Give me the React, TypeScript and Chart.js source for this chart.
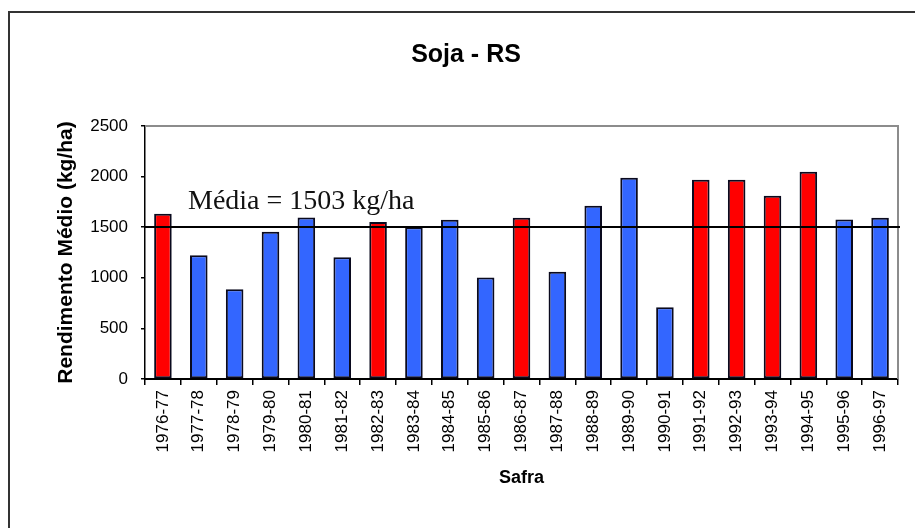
import React, { useEffect, useRef } from "react";
import { Chart, registerables } from "chart.js";

Chart.register(...registerables);

// ---- Data ----
const safras = [
  "1976-77", "1977-78", "1978-79", "1979-80", "1980-81", "1981-82", "1982-83",
  "1983-84", "1984-85", "1985-86", "1986-87", "1987-88", "1988-89", "1989-90",
  "1990-91", "1991-92", "1992-93", "1993-94", "1994-95", "1995-96", "1996-97",
];
const rendimento = [
  1633, 1222, 887, 1455, 1597, 1202, 1551,
  1500, 1574, 1002, 1593, 1061, 1712, 1988,
  710, 1968, 1968, 1810, 2047, 1577, 1593,
];
// Safras highlighted in red
const destaque = [
  true, false, false, false, false, false, true,
  false, false, false, true, false, false, false,
  false, true, true, true, true, false, false,
];
const mediaRendimento = 1503;
const yTickValues = [0, 500, 1000, 1500, 2000, 2500];

const titulo = "Soja - RS";
const tituloY = "Rendimento Médio (kg/ha)";
const tituloX = "Safra";

const RED = "#ff0000";
const BLUE = "#3366ff";
const SANS = '"Liberation Sans", Arial, sans-serif';
const SERIF = '"Liberation Serif", "Times New Roman", serif';

const plotFrame = {
  id: "plotFrame",
  beforeDatasetsDraw(chart: any) {
    const { ctx, chartArea: a } = chart;
    ctx.save();
    ctx.strokeStyle = "#8c8c8c";
    ctx.lineWidth = 2;
    ctx.beginPath();
    ctx.moveTo(a.left, a.top);
    ctx.lineTo(a.right, a.top);
    ctx.lineTo(a.right, a.bottom);
    ctx.stroke();
    ctx.restore();
  },
};

const chartTitle = {
  id: "chartTitle",
  afterDraw(chart: any) {
    const { ctx } = chart;
    ctx.save();
    ctx.fillStyle = "#000";
    ctx.font = `bold 25px ${SANS}`;
    ctx.textAlign = "center";
    ctx.textBaseline = "middle";
    ctx.fillText(titulo, 466, 55);
    ctx.restore();
  },
};

const mediaLine = {
  id: "mediaLine",
  afterDatasetsDraw(chart: any) {
    const { ctx, chartArea: a } = chart;
    const y = chart.scales.y.getPixelForValue(mediaRendimento);
    ctx.save();
    ctx.strokeStyle = "#000";
    ctx.lineWidth = 2;
    ctx.beginPath();
    ctx.moveTo(a.left, y);
    ctx.lineTo(a.right + 2, y);
    ctx.stroke();
    ctx.fillStyle = "#111";
    ctx.font = `28px ${SERIF}`;
    ctx.textAlign = "left";
    ctx.textBaseline = "alphabetic";
    ctx.fillText(`Média = ${mediaRendimento} kg/ha`, a.left + 43, y - 18);
    ctx.restore();
  },
};

export default function App() {
  const ref = useRef<HTMLCanvasElement | null>(null);

  useEffect(() => {
    if (!ref.current) return;
    const chart = new Chart(ref.current, {
      type: "bar",
      data: {
        labels: safras,
        datasets: [
          {
            data: rendimento,
            backgroundColor: destaque.map((d) => (d ? RED : BLUE)),
            borderColor: "#0a0a1e",
            borderWidth: 2,
            borderSkipped: false,
            barPercentage: 0.49,
            categoryPercentage: 1,
          },
        ],
      },
      options: {
        responsive: false,
        animation: false,
        layout: { padding: { left: 0, right: 17, top: 126, bottom: 0 } },
        plugins: {
          legend: { display: false },
          tooltip: { enabled: false },
          title: { display: false },
        },
        scales: {
          x: {
            grid: {
              display: true,
              drawOnChartArea: false,
              drawTicks: true,
              tickLength: 6,
              color: "#000",
              lineWidth: 1.5,
              offset: true,
            },
            border: { display: true, color: "#000", width: 2 },
            ticks: {
              autoSkip: false,
              maxRotation: 90,
              minRotation: 90,
              padding: 5,
              color: "#000",
              font: { family: SANS, size: 17 },
            },
            title: {
              display: true,
              text: tituloX,
              color: "#000",
              font: { family: SANS, size: 18, weight: "bold" },
              padding: { top: 0, bottom: 39 },
            },
            afterFit: (scale: any) => {
              scale.height = 149;
            },
          },
          y: {
            min: 0,
            max: 2500,
            afterBuildTicks: (scale: any) => {
              scale.ticks = yTickValues.map((v) => ({ value: v }));
            },
            grid: {
              display: true,
              drawOnChartArea: false,
              drawTicks: true,
              tickLength: 4,
              color: "#000",
              lineWidth: 1.5,
            },
            border: { display: true, color: "#000", width: 1.5 },
            ticks: {
              padding: 13,
              color: "#000",
              font: { family: SANS, size: 17 },
              callback: (v: any) => String(v),
            },
            title: {
              display: true,
              text: tituloY,
              color: "#000",
              font: { family: SANS, size: 21, weight: "bold" },
              padding: { top: 54, bottom: 0 },
            },
            afterFit: (scale: any) => {
              scale.width = 145;
            },
          },
        },
      },
      plugins: [plotFrame, mediaLine, chartTitle],
    });
    return () => chart.destroy();
  }, []);

  return (
    <div
      style={{
        position: "fixed",
        left: 0,
        top: 0,
        width: 915,
        height: 528,
        overflow: "hidden",
        background: "#fff",
      }}
    >
      <div
        style={{
          position: "absolute",
          left: 8,
          top: 11,
          width: 960,
          height: 600,
          borderLeft: "2px solid #333",
          borderTop: "2px solid #333",
        }}
      />
      <canvas
        ref={ref}
        width={915}
        height={528}
        style={{ position: "absolute", left: 0, top: 0, display: "block" }}
      />
    </div>
  );
}
